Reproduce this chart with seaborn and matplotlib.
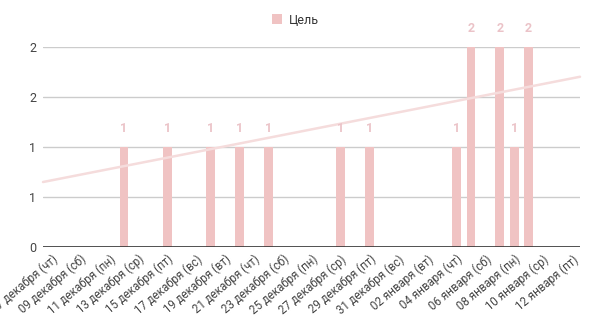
import matplotlib
matplotlib.use("Agg")
import matplotlib.pyplot as plt
import matplotlib.dates as mdates
from matplotlib.patches import Patch
import numpy as np
import pandas as pd
import seaborn as sns

# ---- data ----
bar_dates = ["2023-12-12", "2023-12-15", "2023-12-18", "2023-12-20", "2023-12-22",
             "2023-12-27", "2023-12-29", "2024-01-04", "2024-01-05", "2024-01-07",
             "2024-01-08", "2024-01-09"]
bar_values = [1, 1, 1, 1, 1, 1, 1, 1, 2, 2, 1, 2]
series_name = "Цель"

tick_dates = pd.date_range("2023-12-07", "2024-01-12", freq="2D")
tick_labels = ["07 декабря (чт)", "09 декабря (сб)", "11 декабря (пн)", "13 декабря (ср)",
               "15 декабря (пт)", "17 декабря (вс)", "19 декабря (вт)", "21 декабря (чт)",
               "23 декабря (сб)", "25 декабря (пн)", "27 декабря (ср)", "29 декабря (пт)",
               "31 декабря (вс)", "02 января (вт)", "04 января (чт)", "06 января (сб)",
               "08 января (пн)", "10 января (ср)", "12 января (пт)"]
y_ticks = [0, 0.5, 1, 1.5, 2]
y_tick_labels = ["0", "1", "1", "2", "2"]

bar_color = "#f0c3c3"
label_color = "#ebc3c8"

sns.set_theme(style="white")
plt.rcParams["font.family"] = ["Roboto", "DejaVu Sans"]

df = pd.DataFrame({"date": mdates.date2num(pd.to_datetime(bar_dates)), "value": bar_values})

fig = plt.figure(figsize=(5.91, 3.36), dpi=100)
ax = fig.add_axes([43 / 591, 89 / 336, 537 / 591, 200 / 336])

xmin = mdates.date2num(pd.Timestamp("2023-12-07")) - 0.6
xmax = mdates.date2num(pd.Timestamp("2024-01-12")) + 0.55

# grid
for yt in y_ticks[1:]:
    ax.axhline(yt, color="#cccccc", lw=1, zorder=0)

sns.barplot(data=df, x="date", y="value", native_scale=True, width=0.6,
            color=bar_color, saturation=1, ax=ax, zorder=2, linewidth=0)

# trendline (linear regression over the points)
coef = np.polyfit(df["date"], df["value"], 1)
xs = np.array([xmin, xmax])
ax.plot(xs, np.polyval(coef, xs), color="#f5dcdc", lw=1.8, zorder=3, clip_on=False)

# value labels
for d, v in zip(df["date"], df["value"]):
    ax.annotate(str(v), (d, v), xytext=(0, 13.5), textcoords="offset points",
                ha="center", va="center", fontsize=9, fontweight="bold",
                color=label_color, annotation_clip=False)

ax.axhline(0, color="#333333", lw=1.2, zorder=4)
ax.set_xlim(xmin, xmax)
ax.set_ylim(0, 2)
ax.set_yticks(y_ticks)
ax.set_yticklabels(y_tick_labels, fontsize=9, color="#444444")
ax.set_xticks(mdates.date2num(tick_dates))
ax.set_xticklabels(tick_labels, rotation=40, ha="right", rotation_mode="anchor",
                   fontsize=8.3, color="#444444")
ax.tick_params(axis="both", length=0, pad=5)
ax.tick_params(axis="x", pad=4)
ax.set_xlabel("")
ax.set_ylabel("")
for s in ax.spines.values():
    s.set_visible(False)

fig.legend(handles=[Patch(facecolor=bar_color, edgecolor="none", label=series_name)],
           loc="center", bbox_to_anchor=(0.5, 20 / 336 * -1 + 1), frameon=False,
           fontsize=9, handlelength=0.8, handleheight=0.8, handletextpad=0.6,
           labelcolor="#333333")

fig.savefig("out.png", dpi=100)
